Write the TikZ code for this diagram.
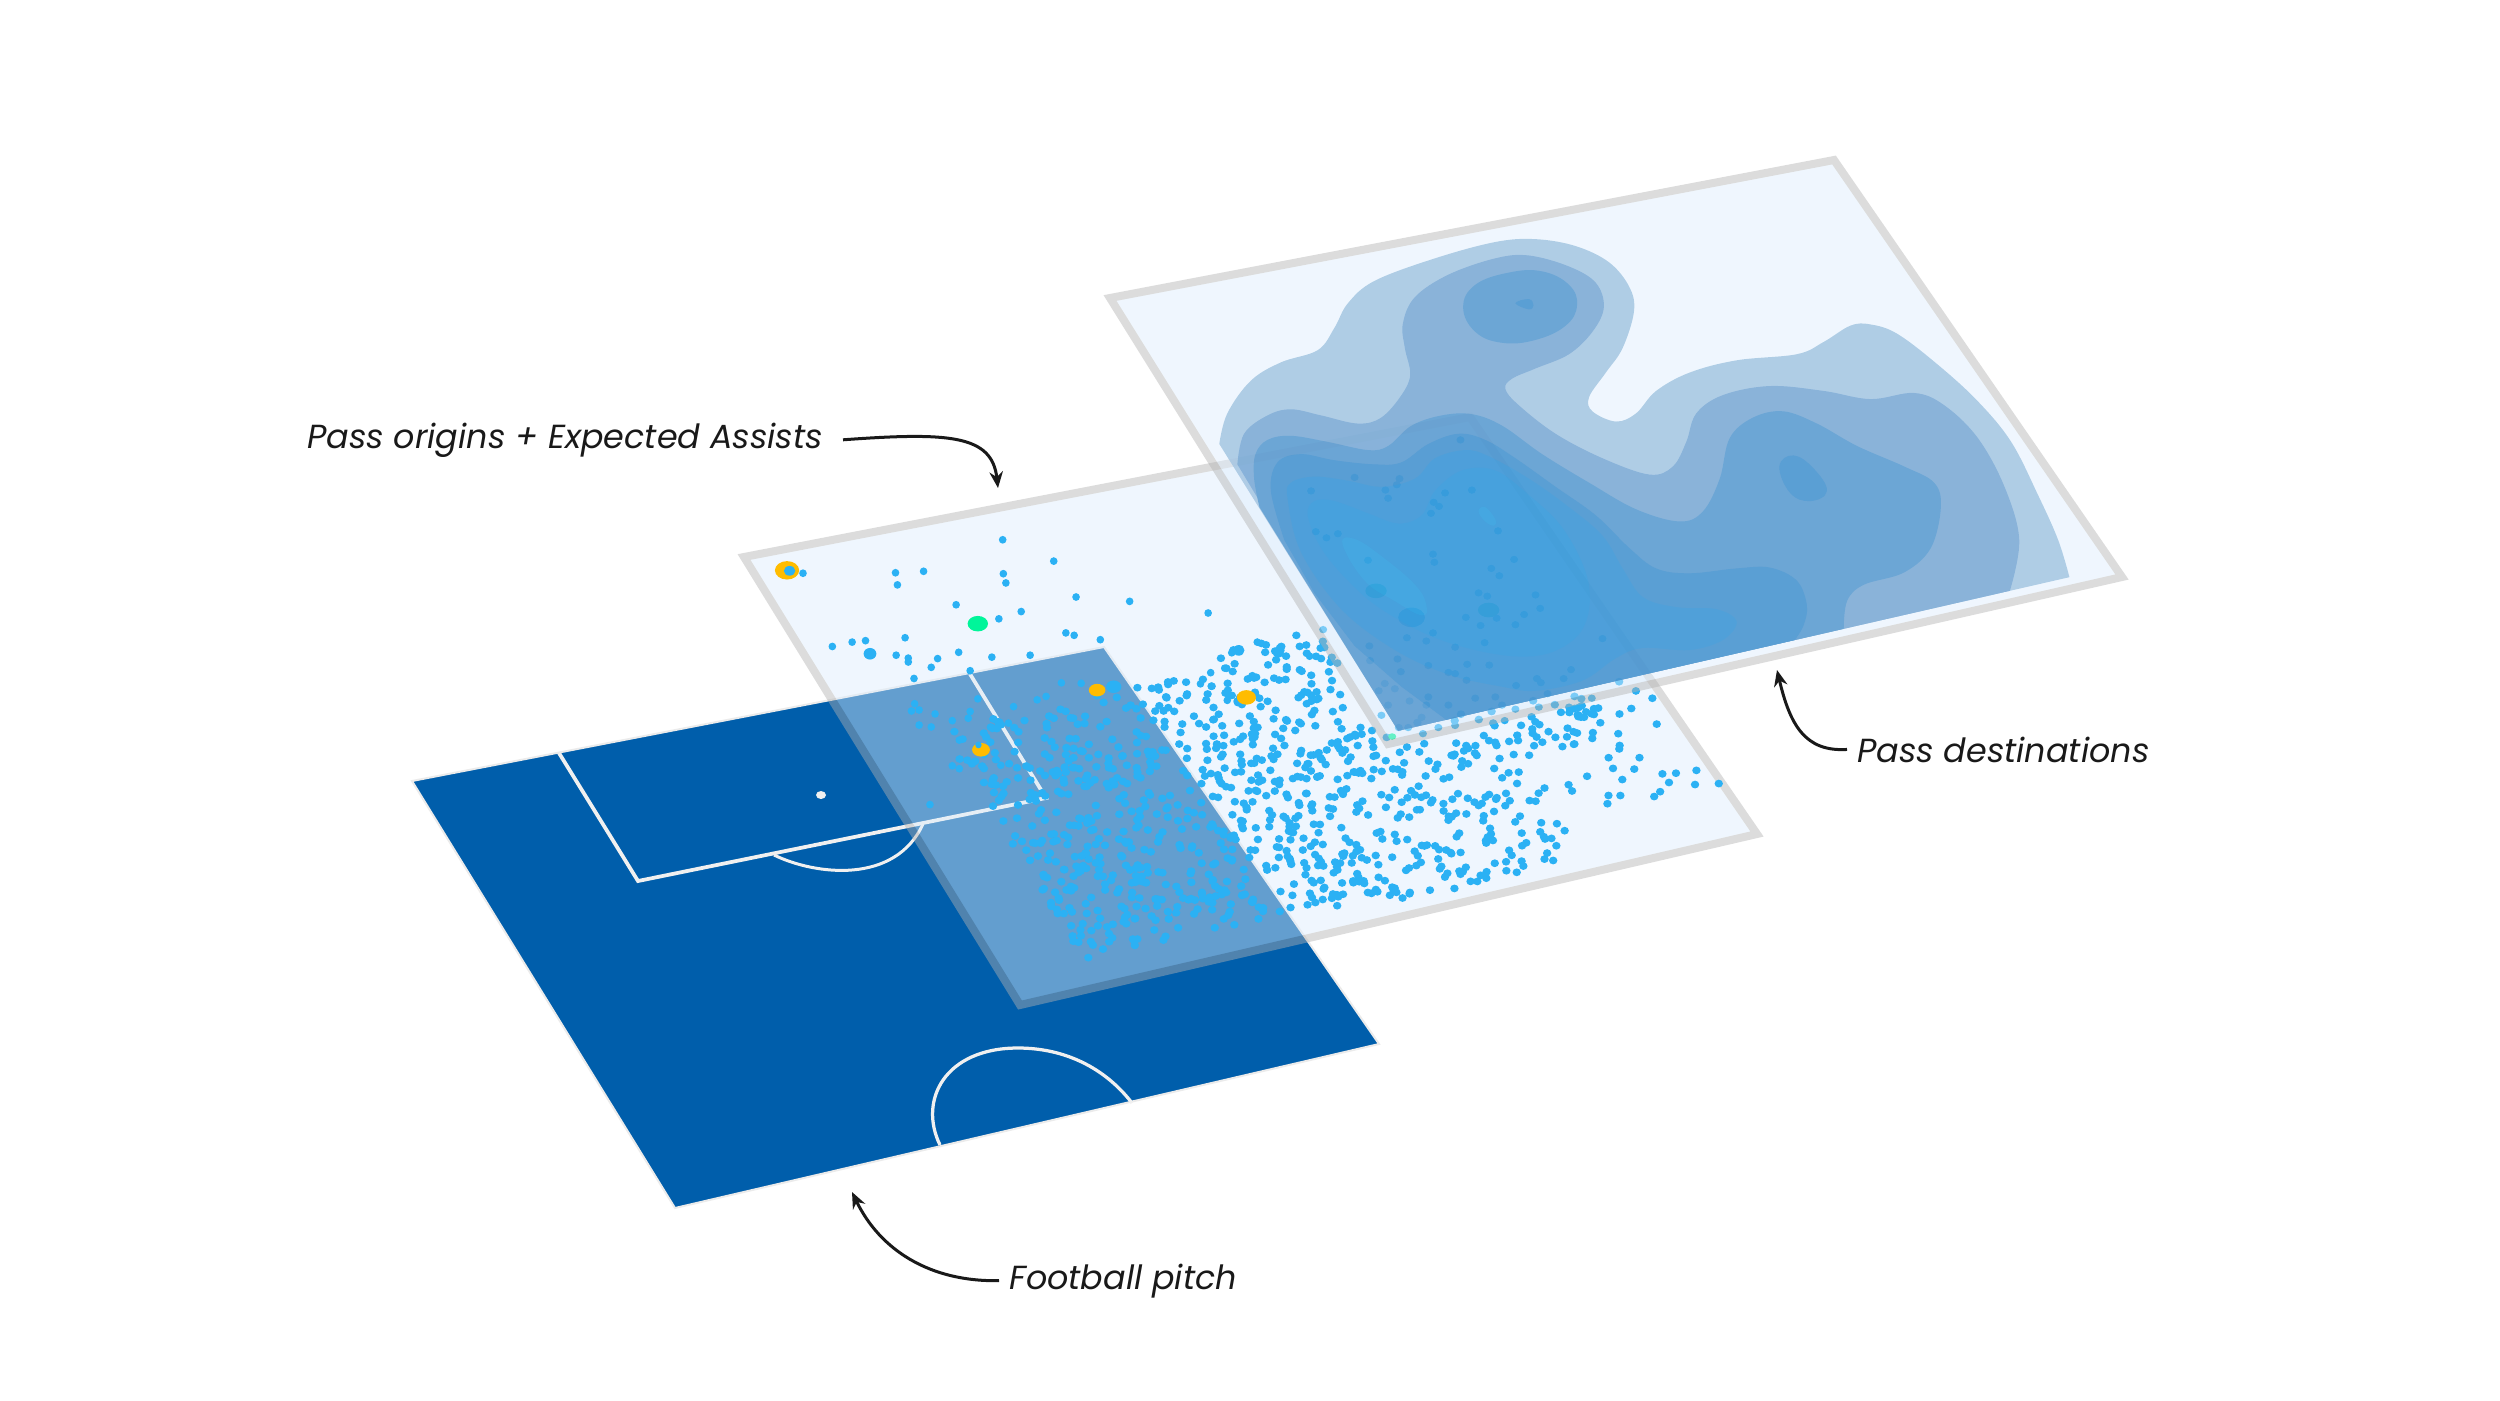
\documentclass[tikz,border=0pt]{standalone}
\usepackage{fontspec}
\setmainfont{Poppins}
\usetikzlibrary{arrows.meta}

\definecolor{pitchblue}{RGB}{0,94,171}
\definecolor{dotblue}{RGB}{43,177,244}
\definecolor{gold}{RGB}{255,188,0}
\definecolor{mint}{RGB}{0,245,154}
\definecolor{planefill}{RGB}{220,236,252}
\definecolor{planeedge}{RGB}{178,178,178}
\definecolor{levela}{RGB}{165,198,226}
\definecolor{levelb}{RGB}{120,168,212}
\definecolor{levelc}{RGB}{86,152,206}
\definecolor{leveld}{RGB}{64,144,205}
\definecolor{levele}{RGB}{52,146,212}
\definecolor{levelf}{RGB}{44,148,216}
\definecolor{levelg}{RGB}{42,155,221}

\tikzset{
	plane/.style={fill=planefill,draw=planeedge,line width=3.2mm,line join=miter},
	markline/.style={draw=white!94!black,line width=1.5mm},
	dot/.style={fill=dotblue},
	callout/.style={font=\fontsize{38}{44}\selectfont\itshape,text=black!90,anchor=base west,inner sep=0pt},
	pointer/.style={->,line width=1.2mm,draw=black!90}
}

% random passes in the coordinates of the middle sheet, skipping what lies under the top sheet
\newcommand{\scatterdots}[5]{
	\foreach \k in {1,...,#1}{
		\pgfmathsetmacro{\ucoord}{#2+(#3-#2)*rnd}
		\pgfmathsetmacro{\vcoord}{#4+(#5-#4)*rnd}
		\pgfmathsetmacro{\px}{744+726*\ucoord+276*\vcoord+9*\ucoord*\vcoord}
		\pgfmathsetmacro{\py}{557-140*\ucoord+448*\vcoord-31*\ucoord*\vcoord}
		\pgfmathtruncatemacro{\hidden}{and(\px-1110>(\py-298)*.623,\py+40*rnd<760-.228*(\px-1388))?1:0}
		\ifnum\hidden=0
			\fill[dot] (\px,\py) circle[x radius=4.2,y radius=3.9];
		\fi
	}
}

\begin{document}
\begin{tikzpicture}[x=.4mm,y=-.4mm,>={Stealth[length=6.5mm,width=5.4mm]}]
	\useasboundingbox (0,0) rectangle (2500,1400);

	% pitch
	\filldraw[fill=pitchblue,draw=black!8,line width=.8mm] (412,781) -- (1104,647) -- (1379,1044) -- (675,1208) -- cycle;
	\draw[markline] (559,753) -- (638,881) -- (1046,798) -- (970,674);
	\draw[markline,line width=1.2mm] (774,855) .. controls (815,875) and (895,885) .. (923,824);
	\draw[markline,line width=1.3mm] (940,1145) .. controls (918,1100) and (945,1048) .. (1018,1048) .. controls (1065,1048) and (1105,1068) .. (1132,1103);
	\fill[white!94!black] (821,795) circle[x radius=5,y radius=4];

	% middle sheet
	\begin{scope}[transparency group,opacity=.45]
		\filldraw[plane] (744,557) -- (1470,417) -- (1757,834) -- (1020,1005) -- cycle;
	\end{scope}
	\pgfmathsetseed{4021}
	\scatterdots{620}{.11}{.5}{.42}{.94}
	\scatterdots{400}{.5}{.92}{.38}{.73}
	\scatterdots{175}{.45}{.78}{.74}{.97}
	\scatterdots{70}{.78}{1}{.5}{.88}
	\begin{scope}[shift={(380,500)},xscale=.638,yscale=.485]
		\foreach \x/\y in {976/82,1056/126,663/151,808/150,852/147,811/175,977/152,981/171,903/216,970/245,1005/230,1091/200,1175/209,1298/233,709/302,740/293,761/290,823/284,809/320,828/326,828/334,874/327,864/345,907/314,959/324,1019/320,837/368,925/352,1075/274,1088/279,1129/288,1335/315,1375/293,1410/305,1412/310,1457/322,1302/356,1286/379,1303/384,1328/413,1068/377,1099/378,1030/412,1044/405,937/410,838/420,833/435,845/433,870/441,897/455,925/436,922/450,845/464,864/468,960/471,985/460,993/426,908/495,897/548,908/554,973/547,862/628}
			\fill[dot] (\x,\y) circle[x radius=6,y radius=8];
		\fill[dot] (768,317) circle[x radius=10,y radius=12];
		\fill[dot] (1346,310) circle[x radius=9,y radius=11];
		\fill[dot] (1150,385) circle[x radius=12,y radius=13];
		\fill[gold] (638,145) circle[x radius=19,y radius=19];
		\fill[dot] (642,146) circle[x radius=9,y radius=10];
		\fill[gold] (1124,392) circle[x radius=13,y radius=13];
		\fill[gold] (1358,407) circle[x radius=15,y radius=15];
		\fill[gold] (942,515) circle[x radius=14,y radius=14];
		\fill[dot] (938,505) circle[x radius=5,y radius=7];
		\fill[mint] (937,255) circle[x radius=16,y radius=16];
	\end{scope}
	\begin{scope}[shift={(1100,140)},xscale=.67,yscale=.408]
		\foreach \x/\y in {538/735,380/827,447/830,426/858,443/845,430/878,315/860,515/865,555/858,498/888,506/898,494/915,322/960,355/965,338/975,594/958,400/1030,497/1015,499/1035,618/1028,584/1050,596/1068,565/1110,578/1118,650/1115,657/1148,633/1163,592/1172,546/1170,568/1190,620/1188,750/1222,458/1220,497/1208,487/1228,402/1240,574/1232,530/1243,403/1276,444/1272,490/1288,548/1285,581/1287,449/1303,520/1305,530/1308,547/1324,652/1320,703/1298,692/1320,658/1330,621/1337,668/1357,425/1332,440/1345,490/1365,520/1385,560/1368,600/1385,590/1365,462/1375,487/1385,416/1350,430/1385,505/1440,530/1435,460/1440,446/1440,420/1410,482/1455,620/1395,655/1390,700/1390,734/1368,715/1410,604/1423,480/1415,333/1200}
			\fill[dot] (\x,\y) circle[x radius=6,y radius=9];
		\fill[dot] (465,1170) circle[x radius=20,y radius=24];
		\fill[mint!40!dotblue] (580,1152) circle[x radius=16,y radius=18];
		\fill[mint!40!dotblue] (412,1105) circle[x radius=16,y radius=18];
		\fill[mint] (436,1462) circle[x radius=6,y radius=8];
	\end{scope}

	% top sheet
	\begin{scope}[transparency group,opacity=.45]
		\filldraw[plane] (1110,298) -- (1834,160) -- (2122,577) -- (1388,744) -- cycle;
	\end{scope}

	% density levels
	\begin{scope}[transparency group,opacity=.85]
		\begin{scope}[shift={(1100,140)},xscale=.67,yscale=.408]
			\clip (9,300) -- (1568,0) -- (1568,1026) -- (445,1448) -- cycle;
			\fill[levela] plot[smooth,tension=.6] coordinates {(178,745) (190,670) (225,590) (270,545) (325,515) (350,460) (370,400) (410,345) (500,290) (590,250) (650,243) (710,260) (760,300) (790,360) (797,420) (780,510) (755,570) (730,630) (735,665) (770,690) (800,670) (830,615) (880,570) (950,540) (1040,525) (1080,495) (1120,455) (1150,452) (1190,475) (1250,550) (1310,640) (1360,740) (1400,870) (1430,980) (1447,1072)} -- (445,1448) -- cycle;
			\fill[levelb] plot[smooth,tension=.6] coordinates {(205,795) (215,720) (250,675) (285,660) (330,675) (385,695) (420,680) (450,625) (463,575) (455,510) (452,450) (470,385) (520,330) (590,290) (640,283) (700,310) (740,350) (752,410) (735,470) (700,525) (650,560) (615,585) (605,610) (625,650) (680,720) (750,780) (820,820) (855,800) (875,740) (890,670) (930,625) (1000,603) (1080,615) (1150,635) (1215,620) (1260,650) (1310,730) (1350,850) (1372,980) (1358,1105)} -- (445,1448) -- cycle;
			\fill[levelc] plot[smooth cycle,tension=.7] coordinates {(542,410) (560,355) (610,325) (660,322) (700,355) (712,405) (695,455) (650,490) (600,497) (560,470)};
			\fill[leveld] plot[smooth cycle,tension=.7] coordinates {(620,400) (640,390) (647,405) (640,415)};
			\fill[levelc] plot[smooth,tension=.6] coordinates {(238,900) (230,830) (232,770) (250,735) (285,725) (340,740) (400,760) (430,750) (465,700) (510,675) (555,672) (600,700) (660,770) (730,840) (800,905) (865,935) (900,910) (925,830) (940,730) (975,680) (1020,665) (1070,695) (1130,750) (1200,800) (1245,840) (1255,900) (1240,1000) (1200,1060) (1140,1090) (1115,1130) (1110,1200)} -- (445,1448) -- cycle;
			\fill[leveld] plot[smooth cycle,tension=.7] coordinates {(1014,800) (1035,773) (1065,805) (1085,860) (1060,885) (1030,865)};
			\fill[leveld] plot[smooth,tension=.6] coordinates {(275,980) (255,860) (265,790) (300,770) (350,785) (410,795) (450,790) (490,745) (535,720) (575,735) (620,780) (680,850) (740,920) (790,1000) (830,1050) (880,1062) (950,1050) (1000,1048) (1040,1080) (1055,1140) (1050,1190) (1035,1230)} -- (520,1425) -- (450,1340) -- (380,1240) -- (320,1110) -- cycle;
			\fill[levele] plot[smooth cycle,tension=.6] coordinates {(280,880) (285,840) (320,825) (370,835) (420,850) (470,830) (500,780) (545,760) (580,775) (640,830) (700,900) (750,970) (780,1050) (810,1120) (860,1145) (920,1150) (950,1180) (930,1225) (880,1250) (810,1245) (770,1270) (720,1325) (650,1350) (600,1340) (520,1310) (440,1250) (360,1150) (300,1010)};
			\fill[levelf] plot[smooth cycle,tension=.6] coordinates {(310,920) (320,885) (350,885) (400,915) (445,940) (480,920) (500,860) (540,810) (590,810) (640,870) (690,950) (725,1060) (730,1150) (710,1220) (660,1262) (590,1260) (500,1220) (420,1150) (370,1080) (330,1000)};
			\fill[levelg] plot[smooth cycle,tension=.7] coordinates {(362,990) (380,978) (420,1020) (470,1090) (487,1140) (480,1165) (440,1130) (395,1080)};
			\fill[levelg] plot[smooth cycle,tension=.7] coordinates {(565,910) (575,900) (590,930) (588,945) (575,935)};
		\end{scope}
	\end{scope}

	% labels
	\node[callout] (originslabel) at (307,448) {Pass origins + Expected Assists};
	\node[callout] (destlabel) at (1857,762) {Pass destinations};
	\node[callout] (pitchlabel) at (1009,1289) {Football pitch};
	\coordinate (originstip) at (998,488);
	\coordinate (desttip) at (1777,670);
	\coordinate (pitchtip) at (852,1192);
	\draw[pointer] ([xshift=8mm]originslabel.east) .. controls (950,432) and (992,435) .. (originstip);
	\draw[pointer] ([xshift=-4mm]destlabel.west) .. controls (1805,752) and (1790,725) .. (desttip);
	\draw[pointer] ([xshift=-4mm]pitchlabel.west) .. controls (930,1282) and (880,1250) .. (pitchtip);
\end{tikzpicture}
\end{document}
